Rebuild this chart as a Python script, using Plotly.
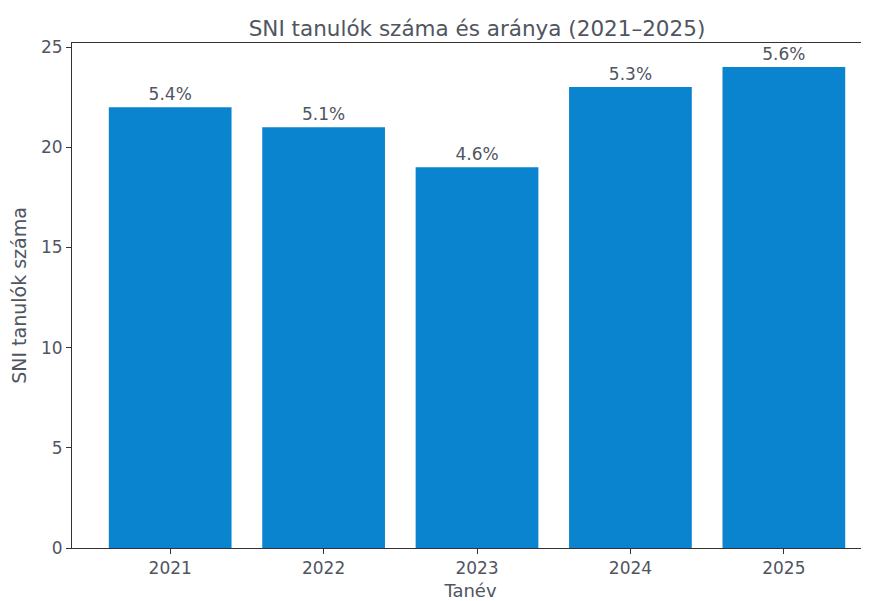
import plotly.graph_objects as go

years = ["2021", "2022", "2023", "2024", "2025"]
counts = [22, 21, 19, 23, 24]
shares = ["5.4%", "5.1%", "4.6%", "5.3%", "5.6%"]

font = "DejaVu Sans"
grey = "#50555f"

# the page body has an 8px margin, so the figure is shifted and sized to fit
W, H = 861, 593

fig = go.Figure(
    go.Bar(
        x=years,
        y=counts,
        text=shares,
        textposition="outside",
        textfont=dict(size=17, color=grey, family=font),
        cliponaxis=False,
        marker=dict(color="#0a84cf", line=dict(width=0)),
        width=0.8,
    )
)

fig.update_layout(
    width=W,
    height=H,
    margin=dict(l=64, r=0, t=35, b=53),
    paper_bgcolor="white",
    plot_bgcolor="white",
    showlegend=False,
    font=dict(family=font, size=17, color=grey),
    title=dict(
        text="SNI tanulók száma és aránya (2021–2025)",
        x=469 / W,
        xanchor="center",
        y=1 - 20 / H,
        yanchor="middle",
        font=dict(size=21.5, color=grey, family=font),
    ),
    xaxis=dict(
        type="category",
        range=[-0.64, 4.555],
        showline=True,
        linecolor="#333",
        linewidth=1,
        mirror=True,
        ticks="outside",
        ticklen=5,
        tickcolor="#333",
        showgrid=False,
        automargin=False,
        title=dict(text="Tanév", standoff=6, font=dict(size=18, color=grey)),
    ),
    yaxis=dict(
        range=[0, 25.2],
        tickvals=[0, 5, 10, 15, 20, 25],
        showline=True,
        linecolor="#333",
        linewidth=1,
        ticks="outside",
        ticklen=5,
        tickcolor="#333",
        showgrid=False,
        zeroline=False,
        automargin=False,
        title=dict(text="SNI tanulók száma", standoff=10, font=dict(size=19, color=grey)),
    ),
)

fig.write_html("out.html")
